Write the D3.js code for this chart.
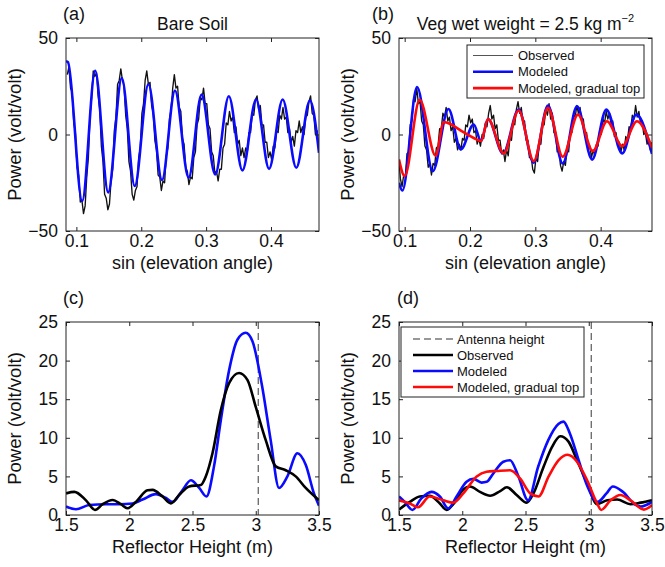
<!DOCTYPE html>
<html>
<head>
<meta charset="utf-8">
<script src="https://cdn.jsdelivr.net/npm/d3@7"></script>
<style>
  body { margin: 0; background: #fff; }
  svg { display: block; font-family: "Liberation Sans", Arial, Helvetica, sans-serif; }
</style>
</head>
<body>
<svg id="fig" width="665" height="567"></svg>
<script>
// ---- data ----
const sinTicks = [0.1, 0.2, 0.3, 0.4];
const powerTicksTop = [-50, 0, 50];
const heightTicks = [1.5, 2, 2.5, 3, 3.5];
const powerTicksBottom = [0, 5, 10, 15, 20, 25];
const antennaHeight = 3.02;

// observed SNR series, sampled every obsStep in sin(elev)
const obsStep = 0.0025;
const obsAStart = 0.086;
const obsA = [31, 35, 24, 22, 6, 1, -17, -21, -35, -34, -41,
  -37, -22, -12, 10, 19, 33, 30,
  32, 20, 13, -6, -14, -31, -33, -39,
  -36, -24, -18, 2, 9, 26, 28, 34,
  28, 25, 10, 3, -14, -19, -31, -34,
  -29, -27, -12, -7, 11, 16, 28, 33,
  26, 27, 15, 11, -3, -8, -21, -22, -29,
  -24, -25, -11, -7, 8, 13, 24, 31,
  24, 25, 14, 12, -2, -5, -17, -19, -26,
  -22, -23, -12, -9, 5, 8, 19, 18,
  24, 16, 16, 5, 3, -9, -11, -20, -19, -24,
  -18, -18, -7, -5, 6, 5, 12,
  7, 9, 1, 4, -5, -3, -11, -7, -12,
  -7, -9, 1, 1, 11, 10, 18, 20,
  13, 15, 5, 5, -4, -4, -12, -9,
  -13, -6, -7, 2, 1, 10, 8, 14,
  8, 9, 1, 3, -4, -1, -6, 2, 1, 7, 1, 4, 0, 9, 10, 17, 20, 11, 10, 0, 2, -6, -3];

const obsBStart = 0.091;
const obsB = [-13, -23, -27,
  -21, -22, -10, -9, 5, 7, 18, 17, 24,
  16, 17, 7, 5, -6, -8, -17, -15, -21,
  -15, -16, -7, -6, 3, 3, 11, 9,
  14, 7, 9, 2, 4, -4, -2, -8, -5,
  -8, -2, -3, 5, 4, 10,
  6, 8, 1, 2, -5, -2,
  -6, 0, -2, 6, 4, 11, 15,
  8, 10, 3, 5, -3, -3, -10, -8, -14,
  -8, -11, -2, -3, 6, 5, 13, 17,
  11, 14, 6, 7, -3, -3, -12, -11, -18,
  -20, -12, -14, -5, -5, 5, 5, 13, 10,
  16, 8, 11, 1, 1, -9, -8, -16, -19,
  -14, -16, -8, -9, 1, 1, 10, 9, 15,
  11, 14, 7, 8, -1, 1, -8, -6, -12,
  -8, -11, -5, -6, 2, 0, 8, 6, 12,
  8, 11, 5, 7, -1, 1, -6, -4, -9,
  -5, -8, -1, -3, 4, 3, 10, 8, 15,
  9, 12, 6, 7, 0, 1, -5, -3, -8, -4];

// modeled SNR (peaks / troughs)
const modelA = [[0.084, 38], [0.087, 37.5], [0.109, -34.5], [0.129, 33], [0.149, -30], [0.170, 29.3],
  [0.190, -26.7], [0.211, 26], [0.232, -23.6], [0.252, 22.8], [0.273, -22.4], [0.293, 20.7],
  [0.314, -20.7], [0.335, 19.8], [0.356, -18.6], [0.377, 18.1], [0.397, -17.8], [0.418, 18.1],
  [0.439, -17.2], [0.460, 17.6], [0.474, -9.5]];

const modelB = [[0.0913, -25], [0.0965, -29], [0.119, 24.6], [0.143, -19], [0.167, 13.2],
  [0.186, -7.7], [0.2056, 5.2], [0.217, -3.4], [0.2276, 8], [0.2505, -9.8], [0.2745, 12.9],
  [0.2975, -14.6], [0.3194, 15], [0.342, -15], [0.3638, 14.6], [0.387, -13], [0.4087, 12.9],
  [0.433, -9.8], [0.4546, 10.3], [0.4786, -10]];

const gradualB = [[0.0913, -13], [0.1, -21.5], [0.123, 18], [0.1474, -11], [0.160, 6.4],
  [0.19, 1.2], [0.205, -1.7], [0.217, -3.4], [0.2276, 8], [0.2515, -9.8], [0.2745, 12.4],
  [0.2975, -13.8], [0.3194, 13.8], [0.342, -11.5], [0.3653, 10.3], [0.388, -8.6], [0.4097, 6.9],
  [0.433, -6], [0.4556, 6.9], [0.4786, -6.9]];

// reflector height periodograms
const lspObsC = [[1.5, 2.8], [1.566, 3.0], [1.658, 1.9], [1.729, 0.65], [1.79, 1.4], [1.868, 1.95],
  [1.934, 1.4], [1.987, 0.87], [2.053, 1.7], [2.145, 3.2], [2.184, 3.25], [2.263, 2.4],
  [2.329, 1.5], [2.395, 2.6], [2.474, 3.7], [2.566, 3.9], [2.605, 5], [2.658, 8], [2.724, 13.6],
  [2.79, 17.1], [2.868, 18.4], [2.934, 17.5], [3.0, 14], [3.079, 9.7], [3.158, 6.3],
  [3.237, 5.8], [3.316, 5], [3.395, 3.5], [3.5, 1.9]];

const lspModC = [[1.5, 1.1], [1.579, 0.75], [1.684, 1.3], [1.816, 1.4], [1.92, 1.4], [2.026, 1.5],
  [2.105, 2.0], [2.21, 2.7], [2.29, 2.2], [2.342, 1.7], [2.42, 3.2], [2.487, 4.5], [2.553, 3.5],
  [2.61, 2.4], [2.67, 6.3], [2.724, 12.3], [2.79, 18.8], [2.855, 22.7], [2.92, 23.6],
  [2.974, 22.5], [3.05, 16.7], [3.118, 9.7], [3.184, 3.5], [3.25, 5], [3.329, 8], [3.395, 6.5],
  [3.46, 2.8], [3.5, 1.2]];

const lspObsD = [[1.5, 0.7], [1.585, 1.7], [1.664, 2.4], [1.743, 2.5], [1.823, 1.5], [1.876, 0.65],
  [1.929, 1.4], [2.008, 3.3], [2.061, 3.7], [2.14, 3.0], [2.22, 2.5], [2.3, 3.1], [2.352, 3.6],
  [2.43, 2.6], [2.51, 1.6], [2.563, 2.8], [2.643, 6.25], [2.709, 8.8], [2.775, 10.2],
  [2.84, 9.5], [2.907, 7.1], [2.987, 4.1], [3.066, 1.4], [3.146, 1.9], [3.225, 2.0],
  [3.33, 1.4], [3.41, 1.6], [3.5, 1.9]];

const lspModD = [[1.5, 2.4], [1.545, 1.7], [1.606, 0.65], [1.677, 2.15], [1.757, 3.0], [1.823, 2.4],
  [1.889, 0.86], [1.955, 2.4], [2.034, 4.3], [2.087, 4.7], [2.153, 4.2], [2.193, 4.3],
  [2.246, 5.4], [2.325, 6.9], [2.378, 7.1], [2.444, 5], [2.52, 1.9], [2.6, 6.25], [2.68, 9.7],
  [2.76, 11.8], [2.8, 12.1], [2.85, 10.6], [2.92, 7.1], [2.99, 3.7], [3.07, 1.7], [3.14, 2.8],
  [3.19, 3.7], [3.27, 3.0], [3.37, 1.3], [3.41, 1.1], [3.5, 1.7]];

const lspGradD = [[1.5, 1.9], [1.585, 1.5], [1.65, 1.0], [1.743, 2.4], [1.85, 1.9], [1.929, 1.6],
  [2.008, 2.8], [2.114, 5.0], [2.193, 5.6], [2.272, 5.7], [2.378, 5.8], [2.458, 4.7],
  [2.537, 2.8], [2.603, 2.4], [2.683, 5.0], [2.762, 7.1], [2.833, 7.8], [2.907, 6.9],
  [2.987, 4.5], [3.066, 1.5], [3.098, 0.65], [3.172, 1.9], [3.25, 2.6], [3.33, 1.9],
  [3.436, 0.7], [3.5, 1.3]];

const legendTop = ['Observed', 'Modeled', 'Modeled, gradual top'];
const legendBottom = ['Antenna height', 'Observed', 'Modeled', 'Modeled, gradual top'];

// ---- drawing ----
const svg = d3.select('#fig');
const BLUE = '#0a0aff', RED = '#ff0a0a', BLACK = '#000', AXIS = '#222';

const toPairs = (vals, start) => vals.map((v, i) => [start + i * obsStep, v]);

function drawPanel(cfg) {
  const x = d3.scaleLinear().domain(cfg.xDomain).range([cfg.left, cfg.right]);
  const y = d3.scaleLinear().domain(cfg.yDomain).range([cfg.bottom, cfg.top]);
  const g = svg.append('g');

  g.append('clipPath').attr('id', cfg.id + '-clip')
    .append('rect')
    .attr('x', cfg.left).attr('y', cfg.top)
    .attr('width', cfg.right - cfg.left).attr('height', cfg.bottom - cfg.top);

  const plot = g.append('g').attr('clip-path', `url(#${cfg.id}-clip)`);

  if (cfg.vline != null) {
    plot.append('line')
      .attr('x1', x(cfg.vline)).attr('x2', x(cfg.vline))
      .attr('y1', cfg.top).attr('y2', cfg.bottom)
      .attr('stroke', '#666').attr('stroke-width', 1.3)
      .attr('stroke-dasharray', '7,4');
  }

  cfg.series.forEach(s => {
    const line = d3.line()
      .x(d => x(d[0]))
      .y(d => y(d[1]))
      .curve(s.smooth ? d3.curveMonotoneX : d3.curveLinear);
    plot.append('path')
      .datum(s.data)
      .attr('d', line)
      .attr('fill', 'none')
      .attr('stroke', s.color)
      .attr('stroke-width', s.width)
      .attr('stroke-linejoin', 'round');
  });

  const fmt = cfg.xFormat || (d => String(d));
  const none = () => '';

  const axes = g.append('g').attr('font-size', 17.5).attr('font-family', null);
  axes.append('g').attr('transform', `translate(0,${cfg.bottom})`)
    .call(d3.axisBottom(x).tickValues(cfg.xTicks).tickFormat(fmt)
      .tickSizeInner(-4).tickSizeOuter(0).tickPadding(4));
  axes.append('g').attr('transform', `translate(0,${cfg.top})`)
    .call(d3.axisTop(x).tickValues(cfg.xTicks).tickFormat(none)
      .tickSizeInner(-4).tickSizeOuter(0));
  axes.append('g').attr('transform', `translate(${cfg.left},0)`)
    .call(d3.axisLeft(y).tickValues(cfg.yTicks)
      .tickSizeInner(-4).tickSizeOuter(0).tickPadding(8));
  axes.append('g').attr('transform', `translate(${cfg.right},0)`)
    .call(d3.axisRight(y).tickValues(cfg.yTicks).tickFormat(none)
      .tickSizeInner(-4).tickSizeOuter(0));
  axes.selectAll('.domain').remove();
  axes.selectAll('.tick line').attr('stroke', AXIS);
  axes.selectAll('.tick text').attr('fill', '#111');
  axes.selectAll('g').attr('font-size', 17.5).attr('font-family', null);

  g.append('rect')
    .attr('x', cfg.left).attr('y', cfg.top)
    .attr('width', cfg.right - cfg.left).attr('height', cfg.bottom - cfg.top)
    .attr('fill', 'none').attr('stroke', AXIS).attr('stroke-width', 1);

  // labels
  g.append('text')
    .attr('x', (cfg.left + cfg.right) / 2).attr('y', cfg.bottom + 38)
    .attr('text-anchor', 'middle').attr('font-size', 18).attr('fill', '#111')
    .text(cfg.xLabel);

  g.append('text')
    .attr('transform', `translate(${cfg.left - 45},${(cfg.top + cfg.bottom) / 2}) rotate(-90)`)
    .attr('text-anchor', 'middle').attr('font-size', 18.5).attr('fill', '#111')
    .text('Power (volt/volt)');

  g.append('text')
    .attr('x', cfg.letterX).attr('y', cfg.top - 18)
    .attr('font-size', 18).attr('fill', '#111')
    .text(cfg.letter);

  if (cfg.title) {
    const t = g.append('text')
      .attr('x', (cfg.left + cfg.right) / 2).attr('y', cfg.top - 8)
      .attr('text-anchor', 'middle').attr('font-size', 17.5).attr('fill', '#111');
    t.append('tspan').text(cfg.title);
    if (cfg.titleSup) {
      t.append('tspan').attr('dy', -8).attr('font-size', 11).text(cfg.titleSup);
    }
  }

  if (cfg.legend) drawLegend(cfg.legend);
}

function drawLegend(lg) {
  const g = svg.append('g');
  g.append('rect')
    .attr('x', lg.x).attr('y', lg.y).attr('width', lg.w).attr('height', lg.h)
    .attr('fill', '#fff').attr('stroke', AXIS).attr('stroke-width', 1);
  lg.items.forEach((it, i) => {
    const yy = lg.row0 + i * lg.step;
    g.append('line')
      .attr('x1', lg.lineX0).attr('x2', lg.lineX1).attr('y1', yy).attr('y2', yy)
      .attr('stroke', it.color).attr('stroke-width', it.width)
      .attr('stroke-dasharray', it.dash || null);
    g.append('text')
      .attr('x', lg.textX).attr('y', yy + 4.5)
      .attr('font-size', 13).attr('fill', '#111')
      .text(it.label);
  });
}

drawPanel({
  id: 'a', left: 66, right: 319, top: 38, bottom: 231,
  xDomain: [0.084, 0.474], yDomain: [-50, 50],
  xTicks: sinTicks, yTicks: powerTicksTop,
  xLabel: 'sin (elevation angle)', letter: '(a)', letterX: 63,
  title: 'Bare Soil',
  series: [
    { data: toPairs(obsA, obsAStart), color: '#111', width: 1.35 },
    { data: modelA, color: BLUE, width: 2.6, smooth: true }
  ]
});

drawPanel({
  id: 'b', left: 399, right: 652, top: 38, bottom: 231,
  xDomain: [0.0913, 0.4786], yDomain: [-50, 50],
  xTicks: sinTicks, yTicks: powerTicksTop,
  xLabel: 'sin (elevation angle)', letter: '(b)', letterX: 372,
  title: 'Veg wet weight = 2.5 kg m', titleSup: '\u22122',
  series: [
    { data: toPairs(obsB, obsBStart), color: '#111', width: 1.35 },
    { data: modelB, color: BLUE, width: 2.6, smooth: true },
    { data: gradualB, color: RED, width: 2.6, smooth: true }
  ],
  legend: {
    x: 467, y: 45, w: 177, h: 53, row0: 55.5, step: 16.3,
    lineX0: 473, lineX1: 513, textX: 518,
    items: [
      { label: legendTop[0], color: '#555', width: 1.2 },
      { label: legendTop[1], color: BLUE, width: 2.6 },
      { label: legendTop[2], color: RED, width: 2.6 }
    ]
  }
});

drawPanel({
  id: 'c', left: 66, right: 319, top: 322, bottom: 515,
  xDomain: [1.5, 3.5], yDomain: [0, 25],
  xTicks: heightTicks, yTicks: powerTicksBottom,
  xLabel: 'Reflector Height (m)', letter: '(c)', letterX: 63,
  vline: antennaHeight,
  series: [
    { data: lspModC, color: BLUE, width: 2.6, smooth: true },
    { data: lspObsC, color: BLACK, width: 2.6, smooth: true }
  ]
});

drawPanel({
  id: 'd', left: 399, right: 652, top: 322, bottom: 515,
  xDomain: [1.5, 3.5], yDomain: [0, 25],
  xTicks: heightTicks, yTicks: powerTicksBottom,
  xLabel: 'Reflector Height (m)', letter: '(d)', letterX: 397,
  vline: antennaHeight,
  series: [
    { data: lspObsD, color: BLACK, width: 2.6, smooth: true },
    { data: lspModD, color: BLUE, width: 2.6, smooth: true },
    { data: lspGradD, color: RED, width: 2.6, smooth: true }
  ],
  legend: {
    x: 401, y: 327, w: 183, h: 70, row0: 339, step: 16,
    lineX0: 413, lineX1: 453, textX: 457,
    items: [
      { label: legendBottom[0], color: '#777', width: 1.3, dash: '7,4' },
      { label: legendBottom[1], color: BLACK, width: 2.6 },
      { label: legendBottom[2], color: BLUE, width: 2.6 },
      { label: legendBottom[3], color: RED, width: 2.6 }
    ]
  }
});
</script>
</body>
</html>
